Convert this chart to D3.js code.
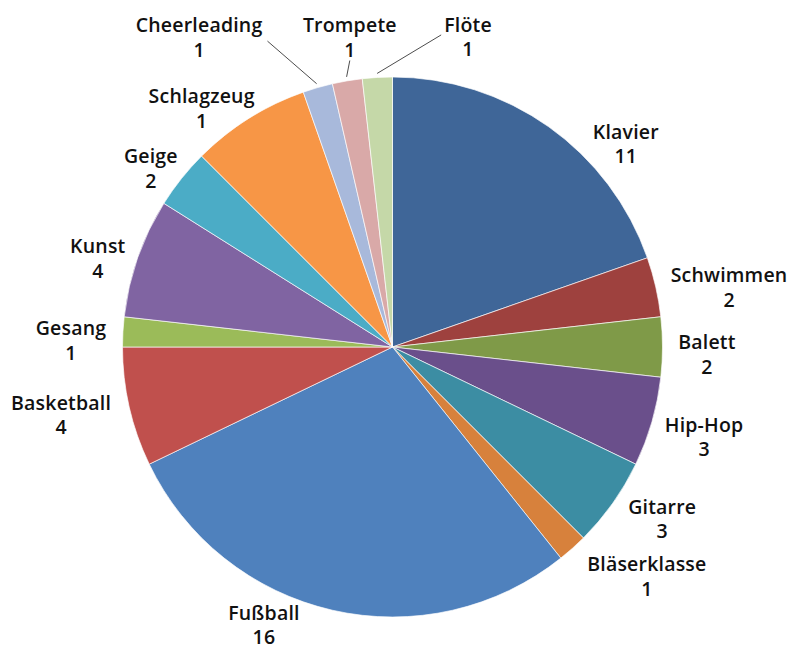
<!DOCTYPE html>
<html>
<head>
<meta charset="utf-8">
<script src="https://cdn.jsdelivr.net/npm/d3@7"></script>
<style>
  html, body { margin: 0; padding: 0; background: #fff; }
  svg { display: block; }
</style>
</head>
<body>
<svg id="svg"></svg>
<script>
// Chart data
const categories = ["Klavier", "Schwimmen", "Balett", "Hip-Hop", "Gitarre", "Bläserklasse", "Fußball",
    "Basketball", "Gesang", "Kunst", "Geige", "Schlagzeug", "Cheerleading", "Trompete", "Flöte"];
// slice sizes as drawn in the picture
const values = [11, 2, 2, 3, 3, 1, 16, 4, 1, 4, 2, 4, 1, 1, 1];
// numbers printed in the labels (Schlagzeug reads 1 although its slice is larger)
const valueText = ["11", "2", "2", "3", "3", "1", "16", "4", "1", "4", "2", "1", "1", "1", "1"];
const colors = ["#3f6698", "#9e413e", "#7f9a48", "#6a4f8b", "#3c8da3", "#d7813c", "#4f81bd",
    "#c0504d", "#9bbb59", "#8064a2", "#4bacc6", "#f79646", "#a8b9db", "#d9a9a8", "#c5d8a8"];

// label layout: turn (degrees) away from the slice middle, and distance as a share of the radius
const labelTurn = [13.6, 2.8, 1.3, 0, -2.9, -6.2, 12, 1.3, -2, -2.5, -2.1, -6.5, -15.9, 1.8, 16.9];
const labelReach = [1.146, 1.266, 1.165, 1.201, 1.184, 1.268, 1.133, 1.253, 1.191, 1.14, 1.113, 1.132, 1.353, 1.159, 1.182];
// slices whose labels get a leader line
const leaderFor = ["Cheerleading", "Trompete", "Flöte"];

const width = 793;
const height = 651;
const cx = 392.5;
const cy = 347;
const radius = 270;

let svg = d3.select("#svg")
    .attr("width", width)
    .attr("height", height);

let rows = categories.map((c, i) => ({ name: c, value: values[i], text: valueText[i], color: colors[i], i: i }));

let pie = d3.pie()
    .sort(null)
    .value(d => d.value);

let arc = d3.arc()
    .innerRadius(0)
    .outerRadius(radius);

let arcs = pie(rows);

let chart = svg.append("g")
    .attr("transform", "translate(" + cx + "," + cy + ")");

// slices
chart.selectAll("path.slice")
    .data(arcs)
    .enter()
    .append("path")
    .attr("class", "slice")
    .attr("d", arc)
    .attr("fill", d => d.data.color)
    .attr("stroke", "rgba(255,255,255,0.65)")
    .attr("stroke-width", 1);

// polar helper: angle in radians, clockwise from top
function polar(a, r) {
    return [Math.sin(a) * r, -Math.cos(a) * r];
}

const lineGap = 24.5;
const fontSize = 19.5;

arcs.forEach(d => {
    let mid = (d.startAngle + d.endAngle) / 2;
    let a = mid + labelTurn[d.data.i] * Math.PI / 180;
    let p = polar(a, radius * labelReach[d.data.i]);

    let label = chart.append("text")
        .attr("text-anchor", "middle")
        .style("font-family", "'Open Sans', 'Noto Sans', sans-serif")
        .style("font-weight", 600)
        .style("font-size", fontSize + "px")
        .style("letter-spacing", "0.2px")
        .style("fill", "#111");

    label.append("tspan")
        .attr("x", p[0])
        .attr("y", p[1] - 5)
        .text(d.data.name);
    label.append("tspan")
        .attr("x", p[0])
        .attr("y", p[1] - 5 + lineGap)
        .text(d.data.text);

    if (leaderFor.includes(d.data.name)) {
        // leader starts just outside the slice edge
        let s = polar(mid, radius + 4);
        let box = label.node().getBBox();
        let e;
        if (s[0] > box.x + box.width) {
            e = [box.x + box.width + 5, p[1] + 4];
        } else if (s[0] < box.x) {
            e = [box.x - 3, p[1] - 2];
        } else {
            e = [p[0], box.y + box.height - 2];
        }
        chart.append("line")
            .attr("x1", s[0])
            .attr("y1", s[1])
            .attr("x2", e[0])
            .attr("y2", e[1])
            .attr("stroke", "#4d4d4d")
            .attr("stroke-width", 1);
    }
});
</script>
</body>
</html>
